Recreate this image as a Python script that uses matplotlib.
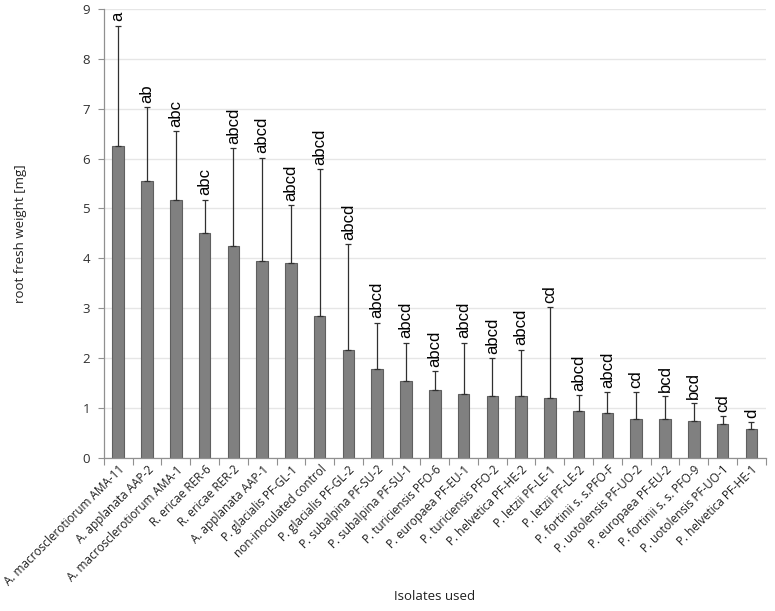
import matplotlib
matplotlib.use("Agg")
import matplotlib.pyplot as plt
import numpy as np

isolates = [
    "A. macrosclerotiorum AMA-11", "A. applanata AAP-2", "A. macrosclerotiorum AMA-1",
    "R. ericae RER-6", "R. ericae RER-2", "A. applanata AAP-1", "P. glacialis PF-GL-1",
    "non-inoculated control", "P. glacialis PF-GL-2", "P. subalpina PF-SU-2",
    "P. subalpina PF-SU-1", "P. turiciensis PFO-6", "P. europaea PF-EU-1",
    "P. turiciensis PFO-2", "P. helvetica PF-HE-2", "P. letzii PF-LE-1",
    "P. letzii PF-LE-2", "P. fortinii s. s.PFO-F", "P. uotolensis PF-UO-2",
    "P. europaea PF-EU-2", "P. fortinii s. s. PFO-9", "P. uotolensis PF-UO-1",
    "P. helvetica PF-HE-1",
]
means = [6.25, 5.55, 5.18, 4.50, 4.25, 3.95, 3.91, 2.85, 2.17, 1.77, 1.54, 1.36,
         1.27, 1.24, 1.23, 1.20, 0.94, 0.89, 0.78, 0.77, 0.73, 0.68, 0.57]
err_top = [8.67, 7.03, 6.56, 5.18, 6.21, 6.02, 5.06, 5.79, 4.28, 2.71, 2.31, 1.73,
           2.31, 1.99, 2.17, 3.02, 1.26, 1.31, 1.32, 1.23, 1.10, 0.84, 0.72]
letters = ["a", "ab", "abc", "abc", "abcd", "abcd", "abcd", "abcd", "abcd", "abcd",
           "abcd", "abcd", "abcd", "abcd", "abcd", "cd", "abcd", "abcd", "cd", "bcd",
           "bcd", "cd", "d"]

fig = plt.figure(figsize=(7.75, 6.11), dpi=100)
ax = fig.add_axes([0.134, 0.251, 0.854, 0.734])

x = np.arange(len(isolates))
means = np.array(means)
upper = np.array(err_top) - means

ax.bar(x, means, width=0.4, color="#808080", edgecolor="#5f5f5f", linewidth=0.8, zorder=2)
ax.errorbar(x, means, yerr=[np.zeros_like(means), upper], fmt="none",
            ecolor="#303030", elinewidth=0.9, capsize=2.5, capthick=0.9, zorder=3)

# significance letters above the error bars
for xi, top, lab in zip(x, err_top, letters):
    ax.annotate(lab, (xi, top), xytext=(0, 3), textcoords="offset points",
                rotation=90, ha="center", va="bottom", fontsize=12,
                family="Liberation Sans", color="black")

ax.set_xlim(-0.5, len(isolates) - 0.5)
ax.set_ylim(0, 9)
ax.set_yticks(range(10))
ax.yaxis.grid(True, color="#e6e6e6", linewidth=1, zorder=0)
ax.set_axisbelow(True)

ax.set_xticks(x)
ax.set_xticklabels(isolates, rotation=45, ha="right", rotation_mode="anchor",
                   fontsize=8.5, family="Open Sans", color="#202020")
ax.tick_params(axis="x", length=0, pad=4)
ax.set_xticks(np.arange(-0.5, len(isolates)), minor=True)
ax.tick_params(axis="x", which="minor", length=5, color="#909090", width=0.8)
ax.tick_params(axis="y", length=4, color="#909090", width=0.8, labelsize=9.5,
               labelcolor="#303030", pad=6)
for lab in ax.get_yticklabels():
    lab.set_family("Open Sans")

for side in ("top", "right"):
    ax.spines[side].set_visible(False)
for side in ("left", "bottom"):
    ax.spines[side].set_color("#909090")
    ax.spines[side].set_linewidth(0.9)

ax.set_ylabel("root fresh weight [mg]", fontsize=9.5, family="Open Sans",
              color="#202020", labelpad=40)
fig.text(0.561, 0.013, "Isolates used", ha="center", va="bottom",
         fontsize=9.5, family="Open Sans", color="#202020")

fig.savefig("out.png", dpi=100)
